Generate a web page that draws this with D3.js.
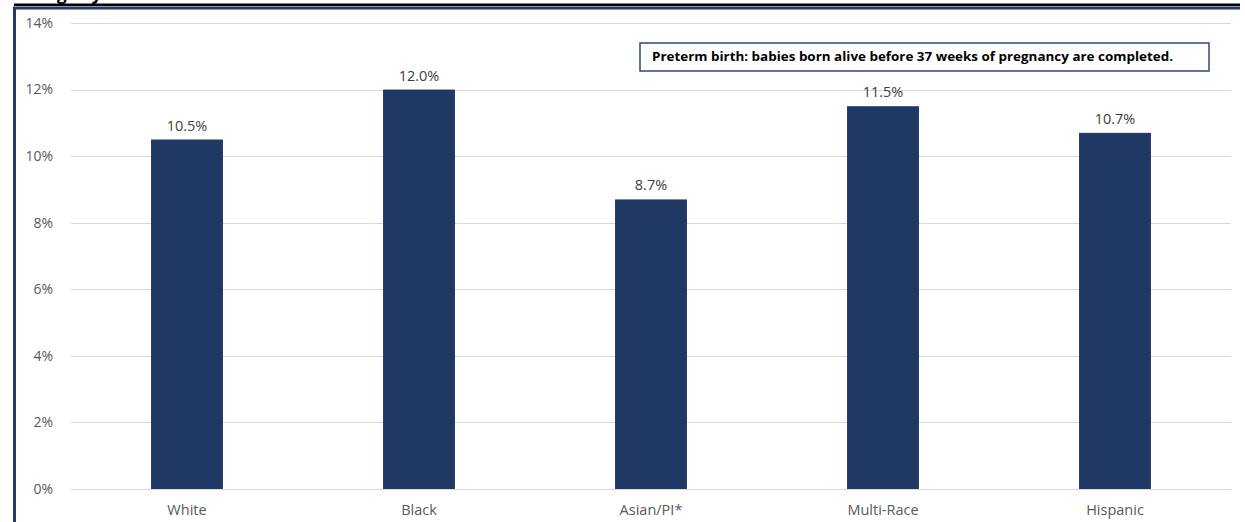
<!DOCTYPE html>
<html><head><meta charset="utf-8">
<script src="https://cdn.jsdelivr.net/npm/d3@7"></script>
<style>html,body{margin:0;padding:0;background:#fff;}svg{display:block;}</style>
</head><body>
<script>
const categories = ["White", "Black", "Asian/PI*", "Multi-Race", "Hispanic"];
const values = [10.5, 12.0, 8.7, 11.5, 10.7];
const yTicks = [0, 2, 4, 6, 8, 10, 12, 14];
const noteText = "Preterm birth: babies born alive before 37 weeks of pregnancy are completed.";

const W = 1245, H = 522;
const svg = d3.select("body").append("svg").attr("width", W).attr("height", H);
const font = "'Open Sans', 'Noto Sans', sans-serif";

// partial title fragment clipped at top (as in the reference)
svg.append("text").attr("x", 57).attr("y", 0).attr("font-family", font)
  .attr("font-size", 17).attr("font-weight", "bold").attr("fill", "#000").text("ge by");

// top black line and blue frame
svg.append("rect").attr("x", 14).attr("y", 3.5).attr("width", 1226).attr("height", 2.5).attr("fill", "#000");
svg.append("path").attr("d", "M14.5,523 L14.5,8 L1240,8").attr("fill", "none")
  .attr("stroke", "#243b64").attr("stroke-width", 3);

const x = d3.scaleBand().domain(categories).range([71, 1231]).paddingInner(0.69).paddingOuter(0.345);
const y = d3.scaleLinear().domain([0, 14]).range([489, 23]);

// gridlines
svg.append("g").selectAll("line").data(yTicks).join("line")
  .attr("x1", 71).attr("x2", 1231)
  .attr("y1", d => Math.round(y(d)) + 0.5).attr("y2", d => Math.round(y(d)) + 0.5)
  .attr("stroke", "#d9d9d9").attr("stroke-width", 1);

// y tick labels
svg.append("g").selectAll("text").data(yTicks).join("text")
  .attr("x", 53).attr("y", d => y(d)).attr("dy", "0.35em").attr("text-anchor", "end")
  .attr("font-family", font).attr("font-size", 14).attr("fill", "#595959")
  .text(d => d + "%");

// bars
svg.append("g").selectAll("rect").data(values).join("rect")
  .attr("x", (d, i) => x(categories[i])).attr("width", x.bandwidth())
  .attr("y", d => y(d)).attr("height", d => y(0) - y(d))
  .attr("fill", "#203864");

// value labels
svg.append("g").selectAll("text").data(values).join("text")
  .attr("x", (d, i) => x(categories[i]) + x.bandwidth() / 2).attr("y", d => y(d) - 9)
  .attr("text-anchor", "middle").attr("font-family", font).attr("font-size", 14.5).attr("fill", "#404040")
  .text(d => d.toFixed(1) + "%");

// category labels
svg.append("g").selectAll("text").data(categories).join("text")
  .attr("x", d => x(d) + x.bandwidth() / 2).attr("y", 515)
  .attr("text-anchor", "middle").attr("font-family", font).attr("font-size", 14.5).attr("fill", "#595959")
  .text(d => d);

// note box
svg.append("rect").attr("x", 640).attr("y", 43).attr("width", 569).attr("height", 28)
  .attr("fill", "#fff").attr("stroke", "#2f4a75").attr("stroke-width", 1.5);
svg.append("text").attr("x", 652).attr("y", 57).attr("dy", "0.35em")
  .attr("font-family", font).attr("font-size", 12).attr("font-weight", "bold").attr("fill", "#000")
  .attr("textLength", 521).attr("lengthAdjust", "spacingAndGlyphs")
  .text(noteText);
</script>
</body></html>
